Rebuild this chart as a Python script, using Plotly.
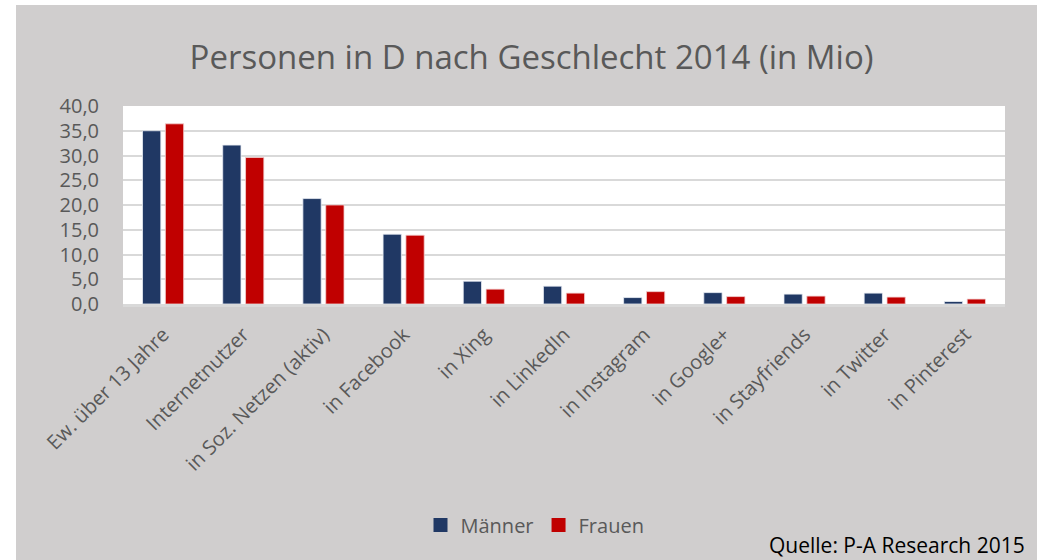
import plotly.graph_objects as go

categories = ["Ew. über 13 Jahre", "Internetnutzer", "in Soz. Netzen (aktiv)", "in Facebook",
              "in Xing", "in LinkedIn", "in Instagram", "in Google+", "in Stayfriends",
              "in Twitter", "in Pinterest"]
maenner = [35.0, 32.1, 21.3, 14.1, 4.6, 3.6, 1.3, 2.3, 2.0, 2.2, 0.5]
frauen = [36.4, 29.6, 20.0, 13.9, 3.0, 2.2, 2.5, 1.5, 1.6, 1.4, 1.0]
y_ticks = [0, 5, 10, 15, 20, 25, 30, 35, 40]

W, H = 1037, 560
L, R, T, B = 123, 32, 106, 256
pw, ph = W - L - R, H - T - B
FONT = "Open Sans"
GRAY_TXT = "#595959"
BG = "#D0CECE"
NAVY = "#203864"
RED = "#C00000"

def px_x(px):
    return (px - L) / pw

def px_y(py):
    return (H - B - py) / ph

fig = go.Figure()
fig.add_trace(go.Bar(x=categories, y=maenner, name="Männer", showlegend=False,
                     marker=dict(color=NAVY, line=dict(color="#E8ECF4", width=0.8))))
fig.add_trace(go.Bar(x=categories, y=frauen, name="Frauen", showlegend=False,
                     marker=dict(color=RED, line=dict(color="#F2D0D0", width=0.8))))
# legend entries with square swatches
fig.add_trace(go.Scatter(x=[categories[0]], y=[None], mode="markers", name="Männer",
                         marker=dict(symbol="square", size=14, color=NAVY)))
fig.add_trace(go.Scatter(x=[categories[0]], y=[None], mode="markers", name="Frauen",
                         marker=dict(symbol="square", size=14, color=RED)))

fig.update_layout(
    width=W, height=H,
    margin=dict(l=L, r=R, t=T, b=B),
    paper_bgcolor=BG, plot_bgcolor="white",
    separators=",.",
    barmode="group", bargap=0.43, bargroupgap=0.2,
    title=dict(text="Personen in D nach Geschlecht 2014 (in Mio)",
               font=dict(family=FONT, size=33, color=GRAY_TXT),
               x=(193 + 870) / 2 / W, xanchor="center", xref="container",
               y=1 - 57 / H, yanchor="middle", yref="container"),
    font=dict(family=FONT, color=GRAY_TXT),
    showlegend=True,
    legend=dict(orientation="h", x=px_x(535), xanchor="center",
                y=px_y(525), yanchor="middle",
                font=dict(family=FONT, size=20, color=GRAY_TXT),
                bgcolor="rgba(0,0,0,0)", itemwidth=30, traceorder="normal",
                itemsizing="trace"),
    xaxis=dict(tickangle=-45, tickfont=dict(family=FONT, size=20, color=GRAY_TXT),
               range=[-0.5, len(categories) - 0.5], autorange=False,
               showline=True, linecolor="#D9D9D9", linewidth=3, ticks="",
               ticklabelstandoff=8, showgrid=False, fixedrange=True),
    yaxis=dict(range=[0, 40], tickvals=y_ticks, tickformat=".1f",
               tickfont=dict(family=FONT, size=20, color=GRAY_TXT),
               gridcolor="#D9D9D9", gridwidth=1.5, zeroline=False,
               showline=False, ticks="", ticklabelstandoff=23),
    shapes=[
        dict(type="rect", xref="paper", yref="paper", x0=px_x(0), x1=px_x(16),
             y0=px_y(H), y1=px_y(0), fillcolor="white", line=dict(width=0), layer="below"),
        dict(type="rect", xref="paper", yref="paper", x0=px_x(0), x1=px_x(W),
             y0=px_y(5), y1=px_y(0), fillcolor="white", line=dict(width=0), layer="below"),
    ],
    annotations=[
        dict(text="Quelle: P-A Research 2015", xref="paper", yref="paper",
             x=px_x(1027), xanchor="right", y=px_y(545), yanchor="middle",
             showarrow=False, font=dict(family=FONT, size=21, color="black")),
    ],
)

fig.write_html("out.html")
